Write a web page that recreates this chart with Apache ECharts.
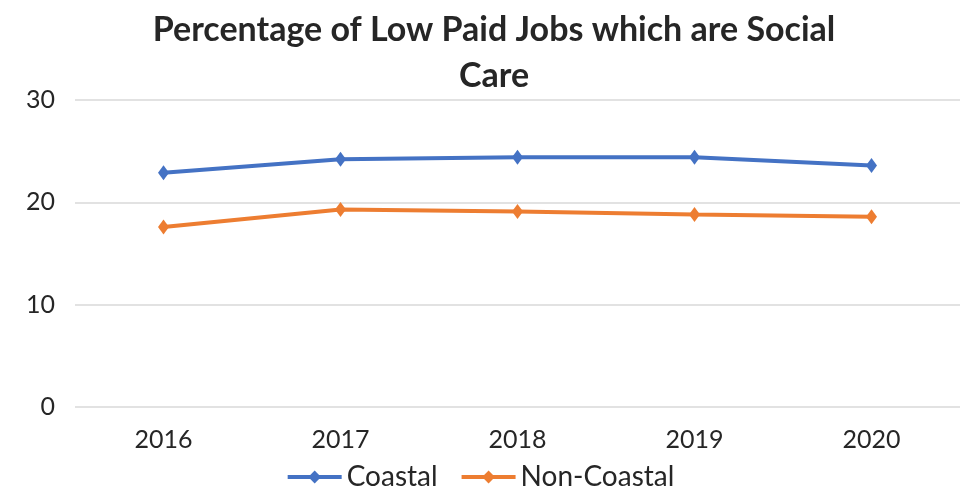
<!DOCTYPE html>
<html>
<head>
<meta charset="utf-8">
<script src="https://cdn.jsdelivr.net/npm/echarts@6/dist/echarts.min.js"></script>
<style>
  html, body { margin: 0; padding: 0; background: #fff; }
  #chart { width: 960px; height: 493px; }
</style>
</head>
<body>
<div id="chart"></div>
<script>
// data
const years = ['2016', '2017', '2018', '2019', '2020']
const coastal = [22.9, 24.2, 24.4, 24.4, 23.6]
const nonCoastal = [17.6, 19.3, 19.1, 18.8, 18.6]

const font = 'Lato'

const chart = echarts.init(document.getElementById('chart'))

chart.setOption({
  animation: false,
  title: {
    text: 'Percentage of Low Paid Jobs which are Social\nCare',
    left: 489,
    textAlign: 'center',
    top: 2,
    textStyle: {
      fontFamily: font,
      fontSize: 34,
      fontWeight: 'bold',
      color: '#262626',
      lineHeight: 46
    }
  },
  legend: {
    bottom: -3,
    left: 'center',
    itemWidth: 54,
    itemHeight: 16,
    itemGap: 22,
    lineStyle: { width: 4 },
    textStyle: { fontFamily: font, fontSize: 28, color: '#262626' },
    data: ['Coastal', 'Non-Coastal']
  },
  grid: {
    left: 75,
    right: -15,
    top: 100,
    bottom: 86,
    containLabel: false
  },
  xAxis: {
    type: 'category',
    data: years,
    axisLine: { show: false },
    axisTick: { show: false },
    axisLabel: {
      fontFamily: font,
      fontSize: 25,
      color: '#262626',
      margin: 20
    }
  },
  yAxis: {
    type: 'value',
    min: 0,
    max: 30,
    interval: 10,
    axisLabel: {
      fontFamily: font,
      fontSize: 25,
      color: '#262626',
      margin: 20
    },
    splitLine: { lineStyle: { color: '#d9d9d9', width: 1.5 } }
  },
  series: [
    {
      name: 'Coastal',
      type: 'line',
      data: coastal,
      symbol: 'diamond',
      symbolSize: [11, 15],
      lineStyle: { color: '#4472C4', width: 4 },
      itemStyle: { color: '#4472C4' }
    },
    {
      name: 'Non-Coastal',
      type: 'line',
      data: nonCoastal,
      symbol: 'diamond',
      symbolSize: [11, 15],
      lineStyle: { color: '#ED7D31', width: 4 },
      itemStyle: { color: '#ED7D31' }
    }
  ]
})
</script>
</body>
</html>
